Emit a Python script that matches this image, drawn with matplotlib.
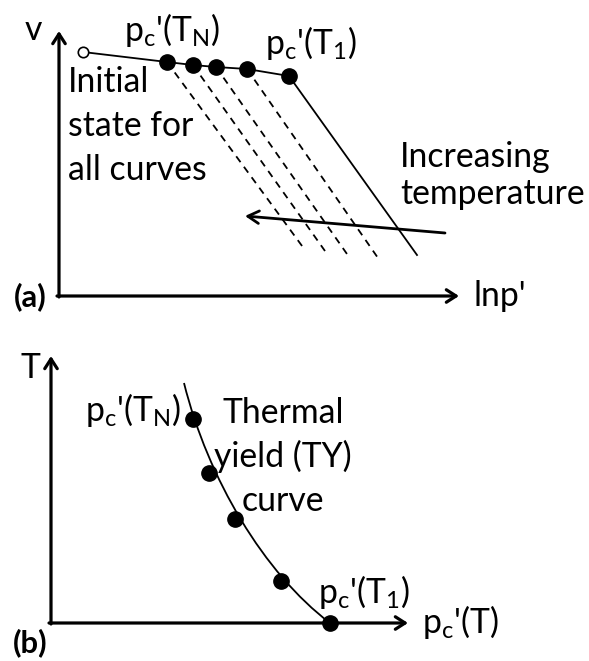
import matplotlib.pyplot as plt
from matplotlib.path import Path
from matplotlib.patches import PathPatch

plt.rcParams['font.family'] = ['Lato', 'DejaVu Sans']
plt.rcParams['mathtext.fontset'] = 'custom'
plt.rcParams['mathtext.rm'] = 'Lato'
plt.rcParams['mathtext.it'] = 'Lato'

# panel (a): v - lnp' sketch, canvas units are pixels (y grows downward)
initial_pt = (83, 52)
yield_x = [167, 193, 216, 247, 289]
yield_y = [62, 65, 67, 69, 76]
dash_end_x = [305, 325, 347, 378]
dash_end_y = [250, 251, 254, 258]
solid_end = (417, 255)
temp_arrow_tail = (445, 233)
temp_arrow_head = (245, 216)

# panel (b): thermal yield curve
ty_curve = [(184, 383), (208, 479), (264, 573), (330, 623)]
ty_x = [193, 209, 235, 281, 330]
ty_y = [419, 473, 519, 581, 623]

FS = 24.3
LW_AX = 2.3
LW = 1.3
DOT = 11

fig = plt.figure(figsize=(5.89, 6.61), dpi=100)
ax = fig.add_axes([0, 0, 1, 1])
ax.set_xlim(0, 589)
ax.set_ylim(661, 0)
ax.axis('off')


def axis_arrow(x0, y0, x1, y1):
    ax.annotate('', xy=(x1, y1), xytext=(x0, y0),
                arrowprops=dict(arrowstyle='->,head_length=0.7,head_width=0.45',
                                lw=LW_AX, color='black',
                                shrinkA=0, shrinkB=0))


def text_lines(x, y0, lines, step, ha='left'):
    for i, s in enumerate(lines):
        ax.text(x, y0 + i * step, s, fontsize=FS, ha=ha, va='baseline')


# ---- (a) ----
axis_arrow(59, 297, 59, 31)
axis_arrow(57, 296, 459, 296)

ax.plot([initial_pt[0]] + yield_x, [initial_pt[1]] + yield_y,
        color='black', lw=LW, zorder=2)
ax.plot(*initial_pt, 'o', ms=7.5, mfc='white', mec='black', mew=1.2, zorder=3)
ax.plot(yield_x, yield_y, 'o', ms=DOT, color='black', zorder=3)

for x0, y0, x1, y1 in zip(yield_x[:-1], yield_y[:-1], dash_end_x, dash_end_y):
    ax.plot([x0, x1], [y0, y1], color='black', lw=LW, ls=(0, (4, 3.2)), zorder=1)
ax.plot([yield_x[-1], solid_end[0]], [yield_y[-1], solid_end[1]],
        color='black', lw=LW, zorder=1)

ax.annotate('', xy=temp_arrow_head, xytext=temp_arrow_tail,
            arrowprops=dict(arrowstyle='->,head_length=0.8,head_width=0.45',
                            lw=2.0, color='black', shrinkA=0, shrinkB=0))

ax.text(33, 30, 'v', fontsize=FS, ha='center', va='center')
ax.text(473, 296, "lnp'", fontsize=FS, ha='left', va='center')
ax.text(30, 297, '(a)', fontsize=FS - 2, ha='center', va='center', fontweight='bold')
ax.text(124, 30, r"p$_{\rm c}$'(T$_{\rm N}$)", fontsize=FS, ha='left', va='center')
ax.text(265, 43, r"p$_{\rm c}$'(T$_{\rm 1}$)", fontsize=FS, ha='left', va='center')
text_lines(68, 92, ['Initial', 'state for', 'all curves'], 44)
text_lines(400, 167, ['Increasing', 'temperature'], 37)

# ---- (b) ----
axis_arrow(51, 624, 51, 356)
axis_arrow(49, 623, 408, 623)

codes = [Path.MOVETO, Path.CURVE4, Path.CURVE4, Path.CURVE4]
ax.add_patch(PathPatch(Path(ty_curve, codes), fc='none', ec='black', lw=LW, zorder=2))
ax.plot(ty_x, ty_y, 'o', ms=DOT, color='black', zorder=3, clip_on=False)

ax.text(30, 368, 'T', fontsize=FS, ha='center', va='center')
ax.text(30, 643, '(b)', fontsize=FS - 2, ha='center', va='center', fontweight='bold')
ax.text(181, 410, r"p$_{\rm c}$'(T$_{\rm N}$)", fontsize=FS, ha='right', va='center')
ax.text(318, 592, r"p$_{\rm c}$'(T$_{\rm 1}$)", fontsize=FS, ha='left', va='center')
ax.text(422, 622, r"p$_{\rm c}$'(T)", fontsize=FS, ha='left', va='center')
text_lines(283, 423, ['Thermal', 'yield (TY)', 'curve'], 44, ha='center')

fig.savefig('out.png', dpi=100)
